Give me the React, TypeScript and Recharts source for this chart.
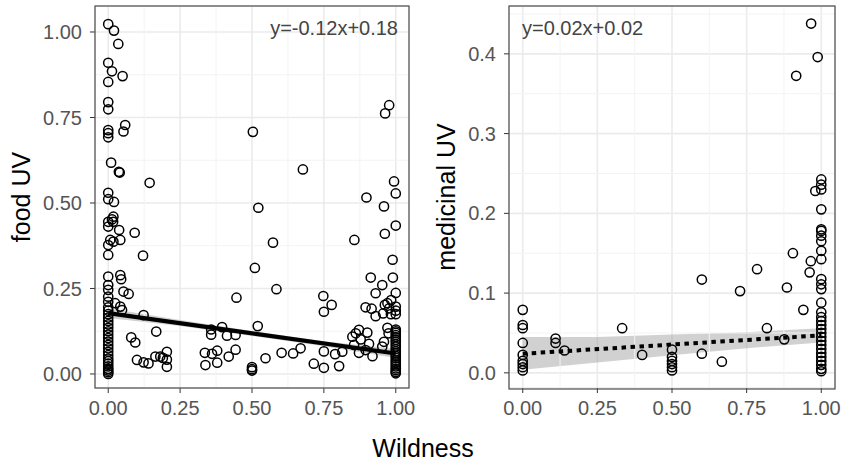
import React from 'react';
import {
  ComposedChart,
  Scatter,
  Line,
  Area,
  XAxis,
  YAxis,
  CartesianGrid,
  ReferenceLine,
} from 'recharts';

// [Wildness, food UV]
const foodPoints: [number, number][] = [
  [0, 1.023], [0, 0.91], [0, 0.854], [0, 0.795], [0, 0.774], [0, 0.713], [0, 0.704], [0, 0.692],
  [0, 0.53], [0, 0.511], [0, 0.445], [0, 0.431], [0, 0.377], [0, 0.348], [0, 0.285], [0, 0.26],
  [0, 0.246], [0, 0.226], [0, 0.211], [0, 0.195], [0, 0.185], [0, 0.175], [0, 0.165], [0, 0.155],
  [0, 0.145], [0, 0.135], [0, 0.125], [0, 0.115], [0, 0.105], [0, 0.095], [0, 0.085], [0, 0.075],
  [0, 0.065], [0, 0.055], [0, 0.045], [0, 0.038], [0, 0.03], [0, 0.022], [0, 0.015], [0, 0.01],
  [0, 0.005], [0, 0.0],
  [0.02, 1.004], [0.035, 0.965], [0.013, 0.885], [0.05, 0.871], [0.059, 0.728], [0.053, 0.709],
  [0.01, 0.618], [0.037, 0.591], [0.04, 0.589], [0.02, 0.503], [0.018, 0.46], [0.013, 0.452],
  [0.017, 0.445], [0.038, 0.421], [0.007, 0.392], [0.018, 0.387], [0.042, 0.392], [0.042, 0.289],
  [0.045, 0.277], [0.053, 0.241], [0.071, 0.234], [0.024, 0.207], [0.042, 0.197], [0.048, 0.187],
  [0.144, 0.559], [0.092, 0.413], [0.121, 0.346], [0.123, 0.172], [0.167, 0.124], [0.08, 0.107],
  [0.094, 0.092], [0.1, 0.041], [0.123, 0.034], [0.14, 0.031], [0.164, 0.051], [0.181, 0.051],
  [0.204, 0.065], [0.204, 0.042], [0.204, 0.021], [0.19, 0.047],
  [0.503, 0.708], [0.677, 0.598], [0.522, 0.486], [0.573, 0.384], [0.51, 0.31], [0.585, 0.248],
  [0.446, 0.223], [0.748, 0.228], [0.777, 0.202], [0.75, 0.182], [0.52, 0.14], [0.396, 0.137],
  [0.358, 0.13], [0.358, 0.115], [0.413, 0.112], [0.443, 0.114], [0.336, 0.062], [0.361, 0.059],
  [0.379, 0.068], [0.443, 0.071], [0.419, 0.051], [0.338, 0.026], [0.379, 0.033], [0.5, 0.02],
  [0.5, 0.014], [0.5, 0.01], [0.547, 0.046], [0.603, 0.062], [0.643, 0.06], [0.669, 0.075],
  [0.715, 0.03], [0.75, 0.066], [0.75, 0.018], [0.789, 0.058], [0.803, 0.023], [0.814, 0.065],
  [0.977, 0.786], [0.963, 0.762], [0.898, 0.516], [0.994, 0.563], [1, 0.528], [0.959, 0.49],
  [1, 0.434], [0.962, 0.41], [0.856, 0.392], [0.989, 0.334], [0.913, 0.282], [0.99, 0.282],
  [0.953, 0.26], [0.93, 0.236], [1, 0.237], [0.984, 0.216], [0.962, 0.202], [0.971, 0.207],
  [0.895, 0.195], [0.916, 0.191], [0.93, 0.169], [0.956, 0.177], [0.977, 0.192], [1, 0.197],
  [1, 0.185], [0.983, 0.175], [1, 0.175], [0.971, 0.135], [0.975, 0.119], [0.861, 0.119],
  [0.872, 0.129], [0.901, 0.121], [0.849, 0.109], [0.878, 0.101], [0.907, 0.088], [0.959, 0.094],
  [0.953, 0.08], [0.855, 0.085], [0.872, 0.062], [0.919, 0.052], [0.895, 0.07],
  [1, 0.13], [1, 0.125], [1, 0.12], [1, 0.114], [1, 0.108], [1, 0.1], [1, 0.094], [1, 0.087],
  [1, 0.08], [1, 0.073], [1, 0.066], [1, 0.06], [1, 0.053], [1, 0.047], [1, 0.04], [1, 0.034],
  [1, 0.028], [1, 0.022], [1, 0.016], [1, 0.011], [1, 0.006], [1, 0.002],
];

// [Wildness, medicinal UV]
const medicinalPoints: [number, number][] = [
  [0.966, 0.438], [0.988, 0.396], [0.916, 0.3725], [1, 0.2425], [1, 0.236], [0.98, 0.228],
  [1, 0.23], [1, 0.205], [1, 0.18], [1, 0.178], [1, 0.172], [1, 0.165], [1, 0.153], [1, 0.1425],
  [0.905, 0.15], [0.965, 0.14], [0.961, 0.126], [0.785, 0.13], [0.6, 0.117], [0.728, 0.1025],
  [0.885, 0.107], [1, 0.1175], [1, 0.111], [1, 0.105], [1, 0.088], [0.94, 0.079], [0.818, 0.056],
  [0.876, 0.042], [0.6, 0.024], [0.667, 0.014],
  [1, 0.076], [1, 0.07], [1, 0.065], [1, 0.06], [1, 0.055], [1, 0.05], [1, 0.045], [1, 0.04],
  [1, 0.035], [1, 0.03], [1, 0.025], [1, 0.02], [1, 0.015], [1, 0.01], [1, 0.005], [1, 0.002],
  [0, 0.079], [0, 0.06], [0, 0.056], [0, 0.0375], [0, 0.0225], [0, 0.015], [0, 0.011], [0, 0.007],
  [0, 0.003],
  [0.11, 0.043], [0.11, 0.0375], [0.14, 0.028], [0.333, 0.056], [0.4, 0.0225], [0.5, 0.029],
  [0.5, 0.02], [0.5, 0.015], [0.5, 0.011], [0.5, 0.007], [0.5, 0.003],
];

// fitted lines [x, y] and confidence bands [x, low, high]
const foodFit: [number, number][] = [[0, 0.178], [1, 0.06]];
const foodBand: [number, number, number][] = [
  [0, 0.164, 0.192], [0.25, 0.14, 0.158], [0.5, 0.111, 0.126], [0.75, 0.081, 0.096], [1, 0.047, 0.073],
];
const medicinalFit: [number, number][] = [[0, 0.024], [1, 0.047]];
const medicinalBand: [number, number, number][] = [
  [0, 0.004, 0.045], [0.25, 0.013, 0.045], [0.5, 0.022, 0.048], [0.75, 0.031, 0.051], [1, 0.038, 0.056],
];

const xTicks = [0, 0.25, 0.5, 0.75, 1];
const xMinor = [0.125, 0.375, 0.625, 0.875];
const foodTicks = [0, 0.25, 0.5, 0.75, 1];
const foodMinor = [0.125, 0.375, 0.625, 0.875];
const medicinalTicks = [0, 0.1, 0.2, 0.3, 0.4];
const medicinalMinor = [0.05, 0.15, 0.25, 0.35, 0.45];

const FONT = '"Liberation Sans", Arial, Helvetica, sans-serif';
const tickStyle = { fill: '#555', fontSize: 20, fontFamily: FONT };

const Ring = (props: any) => (
  <circle cx={props.cx} cy={props.cy} r={4.6} fill="none" stroke="#000" strokeWidth={1.5} />
);

function Panel({
  points,
  fit,
  band,
  yDomain,
  yTicks,
  yMinor,
  yFmt,
  yWidth,
  width,
  rightMargin,
  dotted,
}: {
  points: [number, number][];
  fit: [number, number][];
  band: [number, number, number][];
  yDomain: [number, number];
  yTicks: number[];
  yMinor: number[];
  yFmt: (v: number) => string;
  yWidth: number;
  width: number;
  rightMargin: number;
  dotted?: boolean;
}) {
  const pts = points.map(([x, y]) => ({ x, y }));
  const fitData = fit.map(([x, y]) => ({ x, y }));
  const bandData = band.map(([x, lo, hi]) => ({ x, band: [lo, hi] }));
  return (
    <ComposedChart
      width={width}
      height={463}
      margin={{ top: 6, right: rightMargin, bottom: 0, left: 0 }}
    >
      <CartesianGrid stroke="#ebebeb" strokeWidth={1.6} />
      {xMinor.map((v) => (
        <ReferenceLine key={'x' + v} x={v} stroke="#f3f3f3" strokeWidth={1} />
      ))}
      {yMinor.map((v) => (
        <ReferenceLine key={'y' + v} y={v} stroke="#f3f3f3" strokeWidth={1} />
      ))}
      <XAxis
        type="number"
        dataKey="x"
        domain={[-0.046, 1.046]}
        ticks={xTicks}
        allowDataOverflow
        tickFormatter={(v: number) => v.toFixed(2)}
        height={75}
        tickSize={5}
        tickMargin={8}
        axisLine={false}
        tickLine={{ stroke: '#333' }}
        tick={tickStyle}
        interval={0}
      />
      <YAxis
        type="number"
        dataKey="y"
        domain={yDomain}
        ticks={yTicks}
        allowDataOverflow
        tickFormatter={yFmt}
        width={yWidth}
        tickSize={5}
        tickMargin={8}
        axisLine={false}
        tickLine={{ stroke: '#333' }}
        tick={tickStyle}
        interval={0}
      />
      <Scatter data={pts} dataKey="y" shape={Ring} isAnimationActive={false} />
      <Area
        data={bandData}
        dataKey="band"
        type="linear"
        stroke="none"
        fill="#999999"
        fillOpacity={0.45}
        isAnimationActive={false}
      />
      <Line
        data={fitData}
        dataKey="y"
        type="linear"
        stroke="#000"
        strokeWidth={dotted ? 4 : 4.2}
        strokeDasharray={dotted ? '4.5 4.5' : undefined}
        strokeLinecap="butt"
        dot={false}
        activeDot={false}
        isAnimationActive={false}
      />
    </ComposedChart>
  );
}

export default function App() {
  return (
    <div style={{ position: 'absolute', left: 0, top: 0, width: 842, height: 463, background: '#fff' }}>
      <div style={{ position: 'absolute', left: 0, top: 0 }}>
        <Panel
          points={foodPoints}
          fit={foodFit}
          band={foodBand}
          yDomain={[-0.041, 1.076]}
          yTicks={foodTicks}
          yMinor={foodMinor}
          yFmt={(v) => v.toFixed(2)}
          yWidth={95}
          width={420}
          rightMargin={11}
        />
      </div>
      <div style={{ position: 'absolute', left: 420, top: 0 }}>
        <Panel
          points={medicinalPoints}
          fit={medicinalFit}
          band={medicinalBand}
          yDomain={[-0.019, 0.46]}
          yTicks={medicinalTicks}
          yMinor={medicinalMinor}
          yFmt={(v) => v.toFixed(1)}
          yWidth={89}
          width={422}
          rightMargin={7}
          dotted
        />
      </div>
      <svg
        width={842}
        height={463}
        style={{ position: 'absolute', left: 0, top: 0, pointerEvents: 'none' }}
        fontFamily={FONT}
      >
        <rect x={95} y={6} width={314} height={382} fill="none" stroke="#4d4d4d" strokeWidth={1.2} />
        <rect x={509} y={6} width={326} height={383} fill="none" stroke="#4d4d4d" strokeWidth={1.2} />
        <text x={398} y={35} textAnchor="end" fontSize={20} fill="#444">
          y=-0.12x+0.18
        </text>
        <text x={522} y={35} textAnchor="start" fontSize={20} fill="#444">
          y=0.02x+0.02
        </text>
        <text x={30} y={197} textAnchor="middle" fontSize={25} fill="#000" transform="rotate(-90 30 197)">
          food UV
        </text>
        <text x={455} y={197} textAnchor="middle" fontSize={25} fill="#000" transform="rotate(-90 455 197)">
          medicinal UV
        </text>
        <text x={423} y={457} textAnchor="middle" fontSize={25} fill="#000">
          Wildness
        </text>
      </svg>
    </div>
  );
}
